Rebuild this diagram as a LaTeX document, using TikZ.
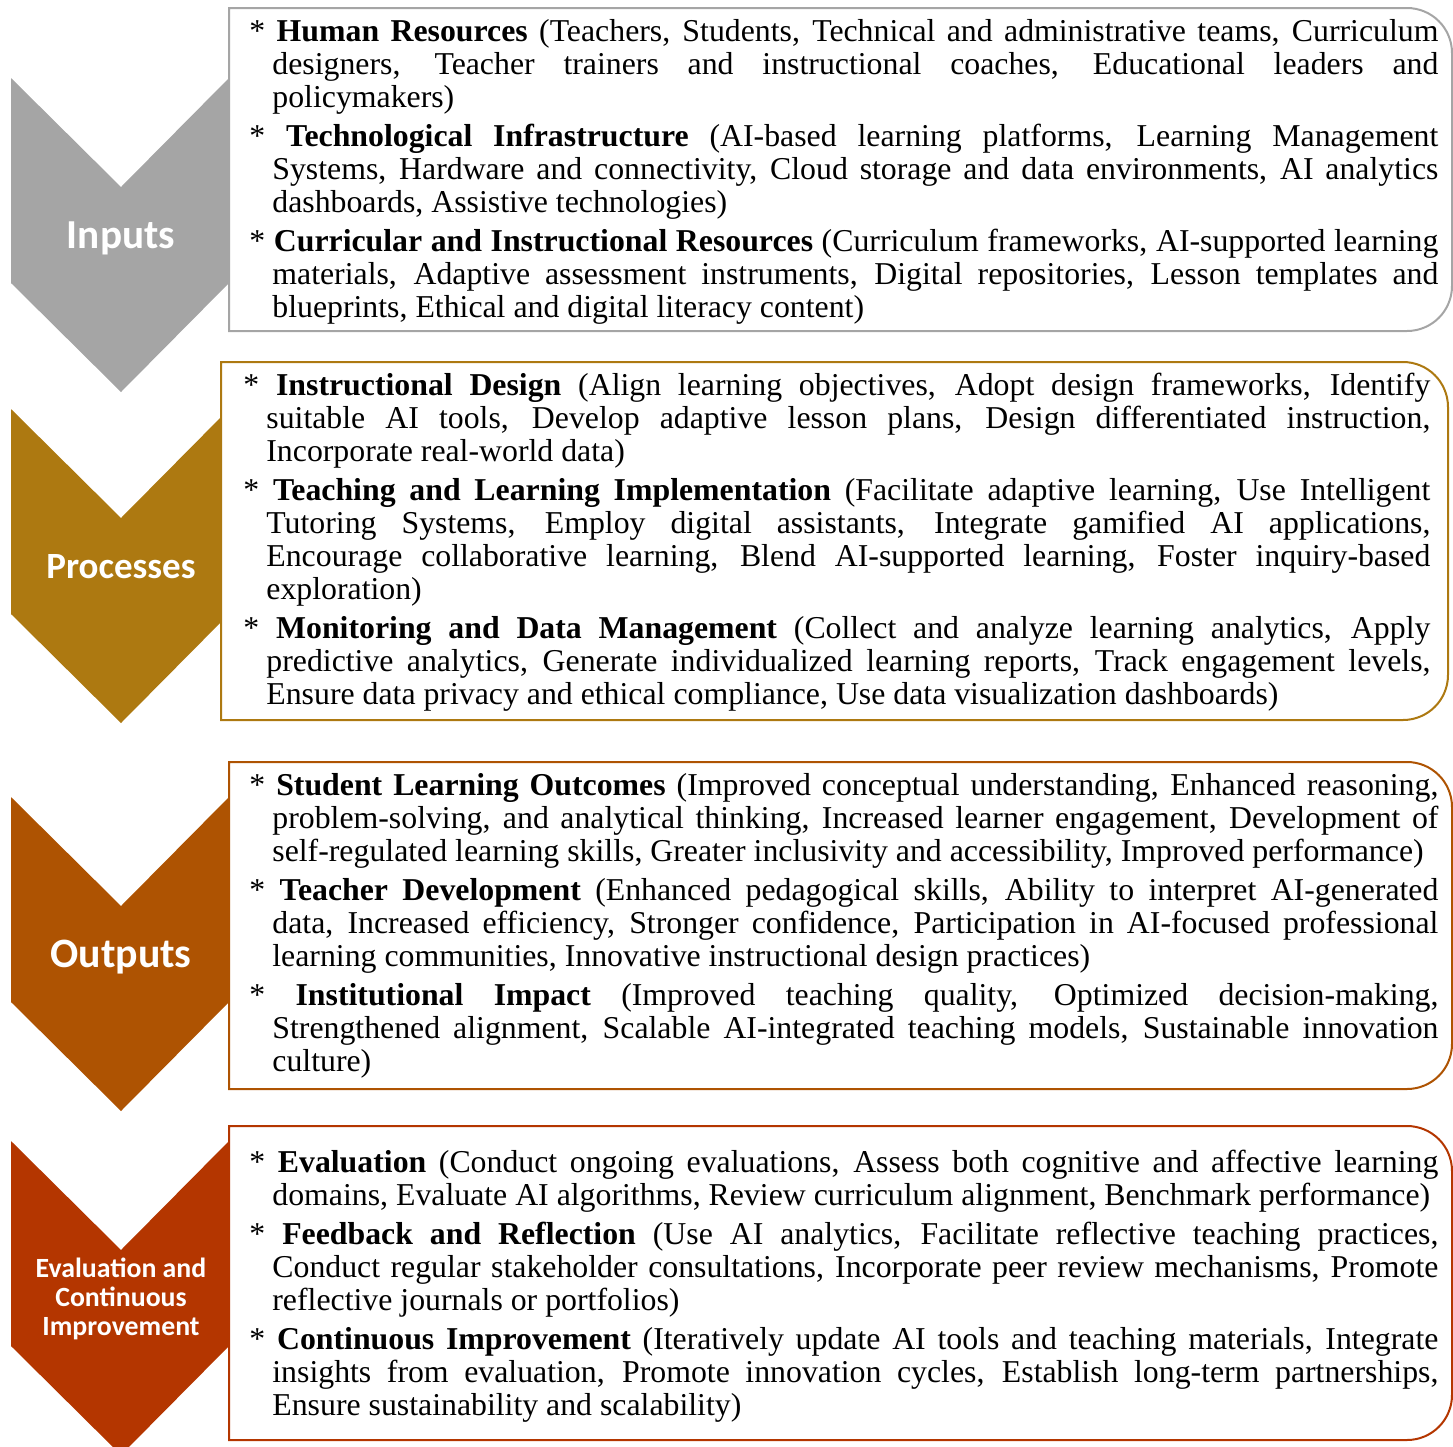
\documentclass[tikz,border=0pt]{standalone}
\usepackage{fontspec}
\setmainfont{Liberation Serif}
\newfontfamily\chevfont{Carlito}
\definecolor{inpgray}{RGB}{165,165,165}
\definecolor{procgold}{RGB}{173,121,17}
\definecolor{outbrown}{RGB}{174,83,2}
\definecolor{evalred}{RGB}{180,54,0}
\newcommand\entry[2]{\parskip=3pt\hyphenpenalty=10000\noindent\hangindent=11.5pt\hangafter=1 *\ \textbf{#1} #2\par}
\begin{document}
\begin{tikzpicture}[x=0.5pt,y=-0.5pt,
  chevlabel/.style={text=white,align=center,inner sep=0pt},
  itemtext/.style={anchor=base west,inner sep=0pt,text width=594.5pt,align=justify,font=\fontsize{15.9pt}{16.5pt}\selectfont},
  boxframe/.style={line width=1pt,fill=white}]
\useasboundingbox (0,0) rectangle (1453,1447);
\foreach \t/\c in {78/inpgray,409/procgold,797/outbrown,1141/evalred}
  \fill [\c] (11,\t) -- (121,\t+109) -- (229,\t) -- (229,\t+205) -- (121,\t+314) -- (11,\t+205) -- cycle;
\node [chevlabel,anchor=base,font=\chevfont\bfseries\fontsize{20.6pt}{24pt}\selectfont] (inputs) at (121,248) {Inputs};
\node [chevlabel,anchor=base,font=\chevfont\bfseries\fontsize{18.5pt}{22pt}\selectfont] (processes) at (121,578) {Processes};
\node [chevlabel,anchor=base,font=\chevfont\bfseries\fontsize{20.9pt}{24pt}\selectfont] (outputs) at (121,967) {Outputs};
\node [chevlabel,font=\chevfont\bfseries\fontsize{13.9pt}{14.5pt}\selectfont] (evaluation) at (121,1299) {Evaluation and\\Continuous\\Improvement};
% boxes
\draw [boxframe,draw=inpgray] (229,8) -- (1407,8) arc[start angle=-90,end angle=0,radius=45] -- (1452,286) arc[start angle=0,end angle=90,radius=45] -- (229,331) -- cycle;
\draw [boxframe,draw=procgold] (221,362) -- (1403,362) arc[start angle=-90,end angle=0,radius=45] -- (1448,675) arc[start angle=0,end angle=90,radius=45] -- (221,720) -- cycle;
\draw [boxframe,draw=outbrown] (229,762) -- (1407,762) arc[start angle=-90,end angle=0,radius=45] -- (1452,1044) arc[start angle=0,end angle=90,radius=45] -- (229,1089) -- cycle;
\draw [boxframe,draw=evalred] (229,1126) -- (1407,1126) arc[start angle=-90,end angle=0,radius=45] -- (1452,1395) arc[start angle=0,end angle=90,radius=45] -- (229,1440) -- cycle;
\node [itemtext] (inputtext) at (249,41) {%
\entry{Human Resources}{(Teachers, Students, Technical and administrative teams, Curriculum\linebreak designers, Teacher trainers and instructional coaches, Educational leaders and\linebreak policymakers)}%
\entry{Technological Infrastructure}{(AI-based learning platforms, Learning Management\linebreak Systems, Hardware and connectivity, Cloud storage and data environments, AI analytics\linebreak dashboards, Assistive technologies)}%
\entry{Curricular and Instructional Resources}{(Curriculum frameworks, AI-supported learning\linebreak materials, Adaptive assessment instruments, Digital repositories, Lesson templates and\linebreak blueprints, Ethical and digital literacy content)}};
\node [itemtext,text width=593.5pt] (processtext) at (243,395) {%
\entry{Instructional Design}{(Align learning objectives, Adopt design frameworks, Identify\linebreak suitable AI tools, Develop adaptive lesson plans, Design differentiated instruction,\linebreak Incorporate real-world data)}%
\entry{Teaching and Learning Implementation}{(Facilitate adaptive learning, Use Intelligent\linebreak Tutoring Systems, Employ digital assistants, Integrate gamified AI applications,\linebreak Encourage collaborative learning, Blend AI-supported learning, Foster inquiry-based\linebreak exploration)}%
\entry{Monitoring and Data Management}{(Collect and analyze learning analytics, Apply\linebreak predictive analytics, Generate individualized learning reports, Track engagement levels,\linebreak Ensure data privacy and ethical compliance, Use data visualization dashboards)}};
\node [itemtext] (outputtext) at (249,795) {%
\entry{Student Learning Outcomes}{(Improved conceptual understanding, Enhanced reasoning,\linebreak problem-solving, and analytical thinking, Increased learner engagement, Development of\linebreak self-regulated learning skills, Greater inclusivity and accessibility, Improved performance)}%
\entry{Teacher Development}{(Enhanced pedagogical skills, Ability to interpret AI-generated\linebreak data, Increased efficiency, Stronger confidence, Participation in AI-focused professional\linebreak learning communities, Innovative instructional design practices)}%
\entry{Institutional Impact}{(Improved teaching quality, Optimized decision-making,\linebreak Strengthened alignment, Scalable AI-integrated teaching models, Sustainable innovation\linebreak culture)}};
\node [itemtext] (evaltext) at (249,1172) {%
\entry{Evaluation}{(Conduct ongoing evaluations, Assess both cognitive and affective learning\linebreak domains, Evaluate AI algorithms, Review curriculum alignment, Benchmark performance)}%
\entry{Feedback and Reflection}{(Use AI analytics, Facilitate reflective teaching practices,\linebreak Conduct regular stakeholder consultations, Incorporate peer review mechanisms, Promote\linebreak reflective journals or portfolios)}%
\entry{Continuous Improvement}{(Iteratively update AI tools and teaching materials, Integrate\linebreak insights from evaluation, Promote innovation cycles, Establish long-term partnerships,\linebreak Ensure sustainability and scalability)}};
\end{tikzpicture}
\end{document}
